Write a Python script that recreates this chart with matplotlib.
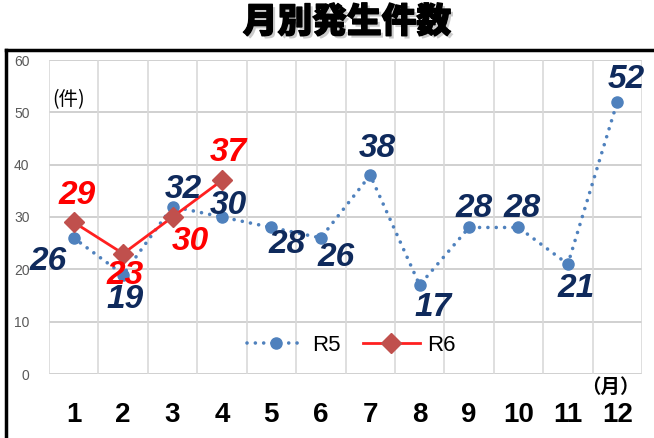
import matplotlib
matplotlib.use("Agg")
import matplotlib.pyplot as plt
import matplotlib.patheffects as pe
from matplotlib.lines import Line2D

months = list(range(1, 13))
month_labels = [str(m) for m in months]
r5 = [26, 19, 32, 30, 28, 26, 38, 17, 28, 28, 21, 52]
r6_months = [1, 2, 3, 4]
r6 = [29, 23, 30, 37]
yticks = [0, 10, 20, 30, 40, 50, 60]

# label offsets in pixels (layout only)
r5_off = [(-26, -24), (2, -25), (11, 17), (6, 11), (16, -17), (15, -20),
          (7, 27), (13, -22), (5, 19), (4, 19), (8, -24), (9, 22)]
r6_off = [(3, 27), (2, -22), (18, -24), (6, 28)]

plt.rcParams['font.family'] = ['Liberation Sans', 'Noto Sans CJK JP', 'DejaVu Sans']

fig = plt.figure(figsize=(6.54, 4.38), dpi=100)
ax = fig.add_axes([49/654, 1-374/438, 593/654, 314/438])

ax.set_xlim(0.5, 12.5)
ax.set_ylim(0, 60)
for s in ax.spines.values():
    s.set_visible(False)
for y in yticks:
    ax.axhline(y, color='#C8C8C8', lw=1.2, zorder=0)
for x in [m + 0.5 for m in [0] + months]:
    ax.axvline(x, color='#D9D9D9', lw=1.2, zorder=0)

ax.plot(months, r5, color='#4F81BD', lw=2.6, linestyle=(0, (0.01, 2.3)),
        dash_capstyle='round', marker='o', markersize=8,
        markeredgecolor='#4F81BD', markerfacecolor='#4F81BD', label='R5', zorder=3)
ax.plot(r6_months, r6, color='#FF2020', lw=2.0, marker='D', markersize=10,
        markerfacecolor='#C0504D', markeredgecolor='#C0504D', label='R6', zorder=4)

for m, v, (dx, dy) in zip(months, r5, r5_off):
    ax.annotate(str(v), (m, v), xytext=(dx, dy), textcoords='offset pixels',
                ha='center', va='center', fontsize=24, fontweight='bold',
                fontstyle='italic', color='#0F2A5C', zorder=5)
for m, v, (dx, dy) in zip(r6_months, r6, r6_off):
    ax.annotate(str(v), (m, v), xytext=(dx, dy), textcoords='offset pixels',
                ha='center', va='center', fontsize=24, fontweight='bold',
                fontstyle='italic', color='#FF0000', zorder=5)

ax.set_yticks(yticks)
ax.set_xticks(months)
ax.set_xticklabels(month_labels)
ax.tick_params(axis='y', length=0, pad=14, labelsize=10, labelcolor='#595959')
ax.tick_params(axis='x', length=0, pad=20, labelsize=20)
for t in ax.get_xticklabels():
    t.set_fontweight('bold')

ax.text(0.005, 0.875, '(件)', transform=ax.transAxes, fontsize=14,
        ha='left', va='center', family=['Noto Sans CJK JP'])
fig.text(610/654, 1-387/438, '（月）', fontsize=14, ha='center', va='center',
         family=['Noto Sans CJK JP'], fontweight='bold')

leg = ax.legend(loc='center', bbox_to_anchor=(0.51, 0.092), ncol=2, frameon=False,
                fontsize=16, handlelength=2.6, columnspacing=1.0, handletextpad=0.3)

fig.text(347/654, 1-22/438, '月別発生件数', fontsize=25, ha='center', va='center',
         family=['Noto Sans CJK JP'], fontweight='black', color='black',
         path_effects=[pe.SimplePatchShadow(offset=(2, -2), shadow_rgbFace='#999999', alpha=0.5),
                       pe.withStroke(linewidth=1.0, foreground='black')])

fig.add_artist(Line2D([6/654, 1], [1-50/438, 1-50/438], color='black', lw=2.5,
                      transform=fig.transFigure))
fig.add_artist(Line2D([6/654, 6/654], [1-50/438, 0], color='black', lw=2.5,
                      transform=fig.transFigure))

fig.savefig('out.png', dpi=100)
